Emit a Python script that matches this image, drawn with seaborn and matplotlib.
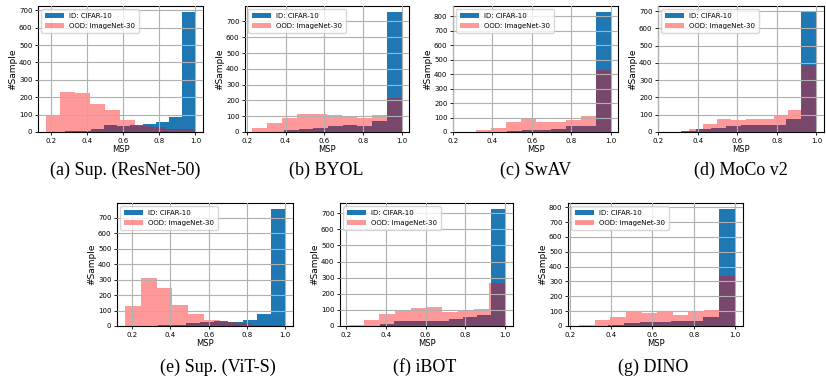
import numpy as np
import matplotlib
matplotlib.use("Agg")
import matplotlib.pyplot as plt
from matplotlib.ticker import MultipleLocator
import seaborn as sns

# panel captions
captions = ["(a) Sup. (ResNet-50)", "(b) BYOL", "(c) SwAV", "(d) MoCo v2",
            "(e) Sup. (ViT-S)", "(f) iBOT", "(g) DINO"]

# MSP range of each histogram (10 bins each)
id_range = [(0.28, 1.0), (0.24, 1.0), (0.25, 1.0), (0.24, 1.0),
            (0.26, 1.0), (0.30, 1.0), (0.23, 1.0)]
ood_range = [(0.17, 0.995), (0.229, 1.0), (0.24, 1.0), (0.285, 1.0),
             (0.162, 0.988), (0.21, 1.0), (0.246, 1.0)]

# counts per bin, ID: CIFAR-10
id_counts = [
    [3, 8, 15, 38, 33, 38, 44, 57, 85, 690],
    [1, 3, 10, 22, 28, 35, 42, 35, 68, 760],
    [0, 1, 2, 10, 12, 14, 18, 38, 40, 828],
    [1, 8, 15, 25, 35, 38, 38, 42, 73, 695],
    [2, 4, 8, 18, 28, 30, 25, 38, 78, 758],
    [1, 12, 28, 30, 30, 32, 45, 55, 68, 727],
    [0, 1, 5, 20, 28, 28, 35, 35, 62, 789],
]
# counts per bin, OOD: ImageNet-30
ood_counts = [
    [97, 230, 224, 160, 126, 68, 37, 27, 15, 20],
    [23, 55, 88, 113, 113, 105, 93, 88, 105, 215],
    [1, 15, 30, 72, 97, 72, 72, 85, 113, 430],
    [1, 20, 48, 78, 72, 78, 78, 95, 125, 390],
    [130, 310, 245, 135, 75, 38, 28, 18, 8, 5],
    [5, 38, 72, 98, 110, 115, 88, 92, 108, 265],
    [5, 40, 62, 97, 85, 97, 75, 95, 108, 335],
]

W, H = 826, 377
# axes boxes in pixels: left, top, right, bottom
boxes = [(38, 6, 203, 132), (245, 6, 409, 132), (453, 6, 618, 132), (658, 6, 824, 132),
         (117, 203, 293, 326), (340, 203, 513, 326), (568, 203, 743, 326)]
cap_pos = [(125, 170), (326, 170), (536, 170), (741, 170),
           (218, 367), (425, 367), (653, 367)]


def centers(rng):
    e = np.linspace(rng[0], rng[1], 11)
    return (e[:-1] + e[1:]) / 2


fig = plt.figure(figsize=(W / 100, H / 100), dpi=100)

for i in range(7):
    l, t, r, b = boxes[i]
    ax = fig.add_axes([l / W, 1 - b / H, (r - l) / W, (b - t) / H])

    sns.histplot(x=centers(id_range[i]), weights=id_counts[i], bins=10,
                 binrange=id_range[i], color="#1f77b4", alpha=1, linewidth=0,
                 label="ID: CIFAR-10", ax=ax)
    sns.histplot(x=centers(ood_range[i]), weights=ood_counts[i], bins=10,
                 binrange=ood_range[i], color="red", alpha=0.4, linewidth=0,
                 label="OOD: ImageNet-30", ax=ax)

    ax.grid(True, color="#b0b0b0", linewidth=0.8)
    ax.set_axisbelow(False)
    ax.set_xticks([0.2, 0.4, 0.6, 0.8, 1.0])
    ax.yaxis.set_major_locator(MultipleLocator(100))
    ax.tick_params(labelsize=5, length=2.5, width=0.6, pad=1.5)
    ax.set_xlabel("MSP", fontsize=6, labelpad=1)
    ax.set_ylabel("#Sample", fontsize=6.5, labelpad=1)
    for s in ax.spines.values():
        s.set_linewidth(0.8)
    ax.legend(loc="upper left", fontsize=5, handlelength=2.7, borderpad=0.5,
              labelspacing=0.6)

    fig.text(cap_pos[i][0] / W, 1 - cap_pos[i][1] / H, captions[i],
             fontsize=13, family="Liberation Serif", ha="center", va="center")

fig.savefig("out.png", dpi=100)
